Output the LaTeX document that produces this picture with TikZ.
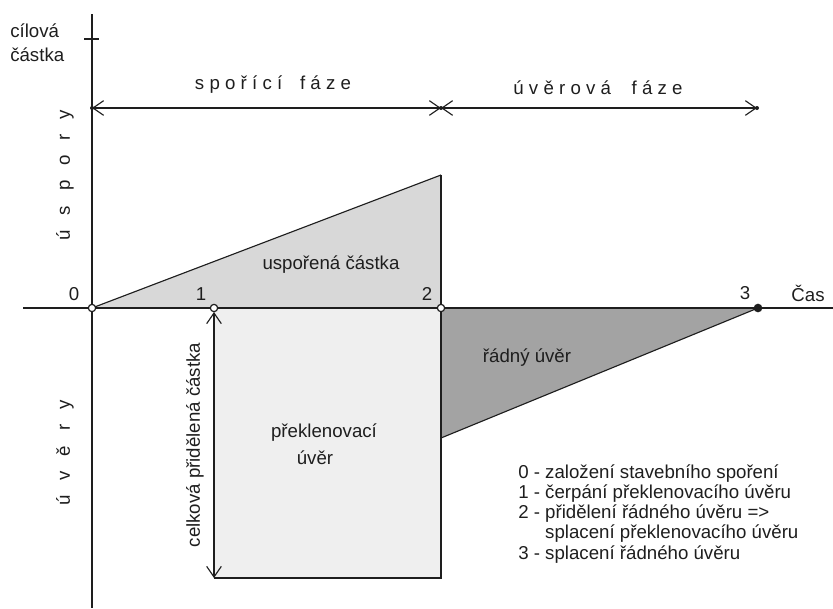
\documentclass[tikz,border=0pt]{standalone}
\usepackage{fontspec}
\setmainfont{Liberation Sans}
\usetikzlibrary{arrows.meta}
\definecolor{lightA}{HTML}{D8D8D8}
\definecolor{lightB}{HTML}{EFEFEF}
\definecolor{darkA}{HTML}{A3A3A3}
\definecolor{inkc}{HTML}{1E1E1E}
\newcommand{\lsA}{\hspace{0.28em}}
\newcommand{\lsB}{\hspace{0.8em}}
\begin{document}
\begin{tikzpicture}[x=0.75pt,y=-0.75pt,
  every node/.style={font=\fontsize{14}{15.2}\selectfont, text=inkc, inner sep=0pt},
  axisline/.style={draw=inkc, line width=1.2pt},
  ln/.style={draw=inkc, line width=0.85pt},
  dimarrow/.style={ln, {Straight Barb[length=8pt,width=11pt]}-{Straight Barb[length=8pt,width=11pt]}},
  opendot/.style={circle, draw=inkc, line width=0.9pt, fill=white, minimum size=5.5pt, inner sep=0pt},
  fulldot/.style={circle, fill=inkc, minimum size=6.5pt, inner sep=0pt},
  tinydot/.style={circle, fill=inkc, minimum size=3pt, inner sep=0pt},
]
\useasboundingbox (0,0) rectangle (833,608);
% coordinates
\coordinate (yTop) at (92,14);
\coordinate (yBot) at (92,608);
\coordinate (xL) at (23,308);
\coordinate (xR) at (833,308);
\coordinate (tickL) at (84,39);
\coordinate (tickR) at (99,39);
\coordinate (o) at (92,308);
\coordinate (t1) at (214,308);
\coordinate (t1b) at (214,312);
\coordinate (t2) at (441,308);
\coordinate (t3) at (758,308);
\coordinate (top2) at (441,175);
\coordinate (low2) at (441,438);
\coordinate (rb1) at (214,578);
\coordinate (rb2) at (441,578);
\coordinate (a0) at (92,108);
\coordinate (a2) at (441,108);
\coordinate (a3) at (757,108);
% fills
\fill[lightB] (t1) rectangle (rb2);
\fill[lightA] (o) -- (t2) -- (top2) -- cycle;
\fill[darkA] (t2) -- (t3) -- (low2) -- cycle;
% lines
\draw[axisline] (xL) -- (xR);
\draw[axisline] (yTop) -- (yBot);
\draw[ln] (tickL) -- (tickR);
\draw[ln] (o) -- (top2);
\draw[ln] (top2) -- (rb2) -- (rb1);
\draw[ln] (low2) -- (t3);
\draw[dimarrow] (t1b) -- (rb1);
\draw[dimarrow] (a0) -- (a2);
\draw[dimarrow] (a2) -- (a3);
% dots
\node[tinydot] (d0) at (a0) {};
\node[tinydot] (d2) at (a2) {};
\node[tinydot] (d3) at (a3) {};
\node[opendot] (p0) at (o) {};
\node[opendot] (p1) at (t1) {};
\node[opendot] (p2) at (t2) {};
\node[fulldot] (p3) at (t3) {};
% labels
\node[anchor=west] (cil1) at (10,31) {cílová};
\node[anchor=west] (cil2) at (10,55) {částka};
\node (sporici) at (273,85) {s\lsA p\lsA o\lsA ř\lsA í\lsA c\lsA í\hspace{0.95em}f\lsA á\lsA z\lsA e};
\node (uverova) at (598,88) {ú\lsA v\lsA ě\lsA r\lsA o\lsA v\lsA á\hspace{1.1em}f\lsA á\lsA z\lsA e};
\node[rotate=90] (uspory) at (65,175) {ú\lsB s\lsB p\lsB o\lsB r\lsB y};
\node[rotate=90] (uvery) at (65,453) {ú\lsB v\lsB ě\lsB r\lsB y};
\node (l0) at (74,294) {0};
\node (l1) at (201,294) {1};
\node (l2) at (427,294) {2};
\node (l3) at (745,293) {3};
\node (cas) at (808,293) {Čas};
\node (usporena) at (331,265) {uspořená částka};
\node (radny) at (527,358) {řádný úvěr};
\node (prekl1) at (324,433) {překlenovací};
\node (prekl2) at (315,458) {úvěr};
\node[rotate=90] (celkova) at (195,445) {celková přidělená částka};
\node[anchor=north west, align=left] (legend) at (518,464) {0 - založení stavebního spoření\\1 - čerpání překlenovacího úvěru\\2 - přidělení řádného úvěru =>\\\phantom{2 - }splacení překlenovacího úvěru\\3 - splacení řádného úvěru};
\end{tikzpicture}
\end{document}
